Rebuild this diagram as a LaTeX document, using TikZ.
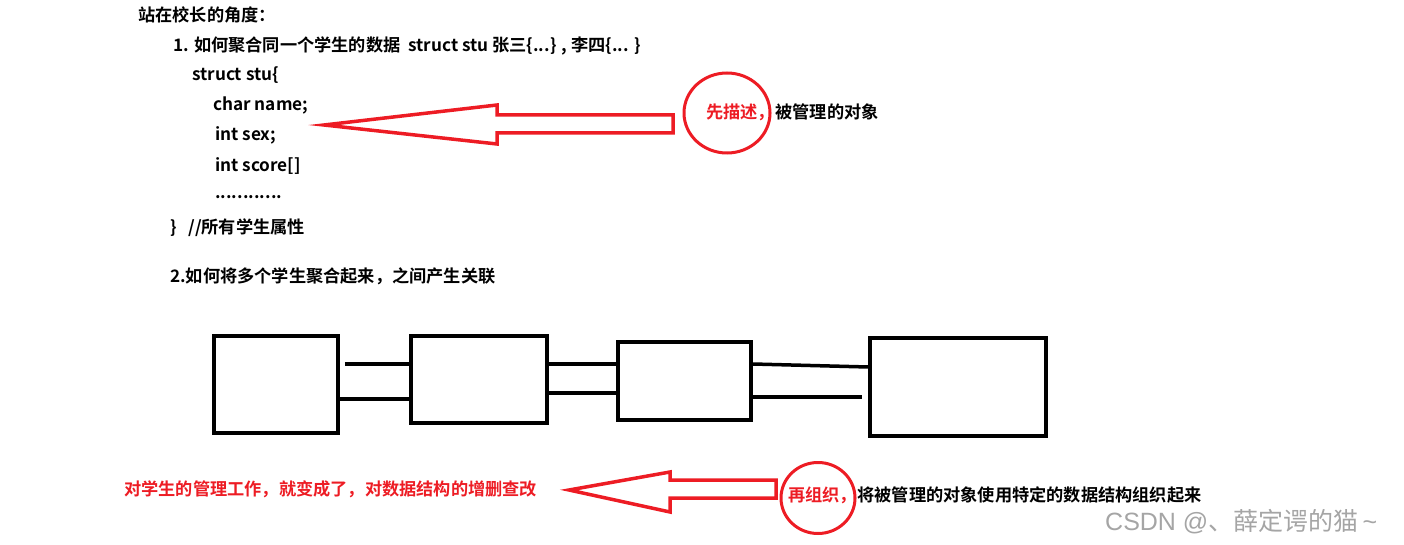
\documentclass[tikz,border=0pt]{standalone}
\usepackage{fontspec}
\setmainfont{Noto Sans CJK SC}[BoldFont={Noto Sans CJK SC Bold}]
\newfontfamily\marklatin{Liberation Sans}
\usetikzlibrary{shapes.geometric}
\definecolor{markred}{RGB}{237,28,36}
\definecolor{markgray}{RGB}{165,165,165}
\begin{document}
\begin{tikzpicture}[x=1pt,y=-1pt,
  txt/.style={anchor=west,inner sep=0pt,font=\fontsize{17.2}{20}\selectfont\bfseries},
  hint/.style={txt,text=markred},
  blockarrow/.style={draw=markred,line width=3.5pt,line join=miter},
  ring/.style={draw=markred,line width=3pt,ellipse,inner sep=0pt},
  item/.style={draw,line width=3.5pt,inner sep=0pt},
  link/.style={line width=3.5pt}]
\useasboundingbox (0,0) rectangle (1404,545);
% struct part
\node[txt] (head) at (138,15) {站在校长的角度：};
\node[txt] (q1) at (173,46) {1. 如何聚合同一个学生的数据 \ struct stu 张三\{...\} , 李四\{... \}};
\node[txt] (s0) at (192,75) {struct stu\{};
\node[txt] (s1) at (213,105) {char name;};
\node[txt] (s2) at (215,135) {int sex;};
\node[txt] (s3) at (215,166) {int score[]};
\node[txt] (s4) at (215,197) {............};
\node[txt] (s5) at (170,228) {\} \ \ //所有学生属性};
\node[txt] (q2) at (170,276) {2.如何将多个学生聚合起来，之间产生关联};
\draw[blockarrow] (324,125) -- (497,105) -- (497,115) -- (673,115) -- (673,133) -- (497,133) -- (497,144) -- cycle;
\node[ring,minimum width=86pt,minimum height=80pt] (c1) at (727,113) {};
\node[hint] (d1) at (706,112) {先描述，};
\node[txt] (d2) at (d1.east) {被管理的对象};
% linked list part
\node[item,minimum width=124pt,minimum height=97pt] (b1) at (276,384.5) {};
\node[item,minimum width=136pt,minimum height=87pt] (b2) at (479,379.5) {};
\node[item,minimum width=133pt,minimum height=78pt] (b3) at (684.5,381) {};
\node[item,minimum width=176pt,minimum height=98pt] (b4) at (958,387) {};
\coordinate (ra) at (0,364);
\coordinate (rb) at (0,399);
\coordinate (rc) at (0,393);
\coordinate (rd) at (0,367);
\coordinate (re) at (0,397);
\draw[link] ([xshift=5pt]b1.east |- ra) -- (b2.west |- ra);
\draw[link] (b1.east |- rb) -- (b2.west |- rb);
\draw[link] (b2.east |- ra) -- (b3.west |- ra);
\draw[link] (b2.east |- rc) -- (b3.west |- rc);
\draw[link] (b3.east |- ra) -- (b4.west |- rd);
\draw[link] (b3.east |- re) -- ([xshift=-6pt]b4.west |- re);
% conclusion
\draw[blockarrow] (569,490) -- (670,472) -- (670,480) -- (776,480) -- (776,498) -- (670,498) -- (670,512) -- cycle;
\node[ring,minimum width=74pt,minimum height=71pt] (c2) at (818,498) {};
\node[hint] (r1) at (124,489) {对学生的管理工作，就变成了，对数据结构的增删查改};
\node[hint] (g1) at (788,495) {再组织，};
\node[txt] (g2) at (g1.east) {将被管理的对象使用特定的数据结构组织起来};
\node[anchor=west,inner sep=0pt,text=markgray,font=\fontsize{25}{28}\selectfont] (mark) at (1105,522) {{\marklatin CSDN @}、薛定谔的猫{\marklatin\,\textasciitilde}};
\end{tikzpicture}
\end{document}
